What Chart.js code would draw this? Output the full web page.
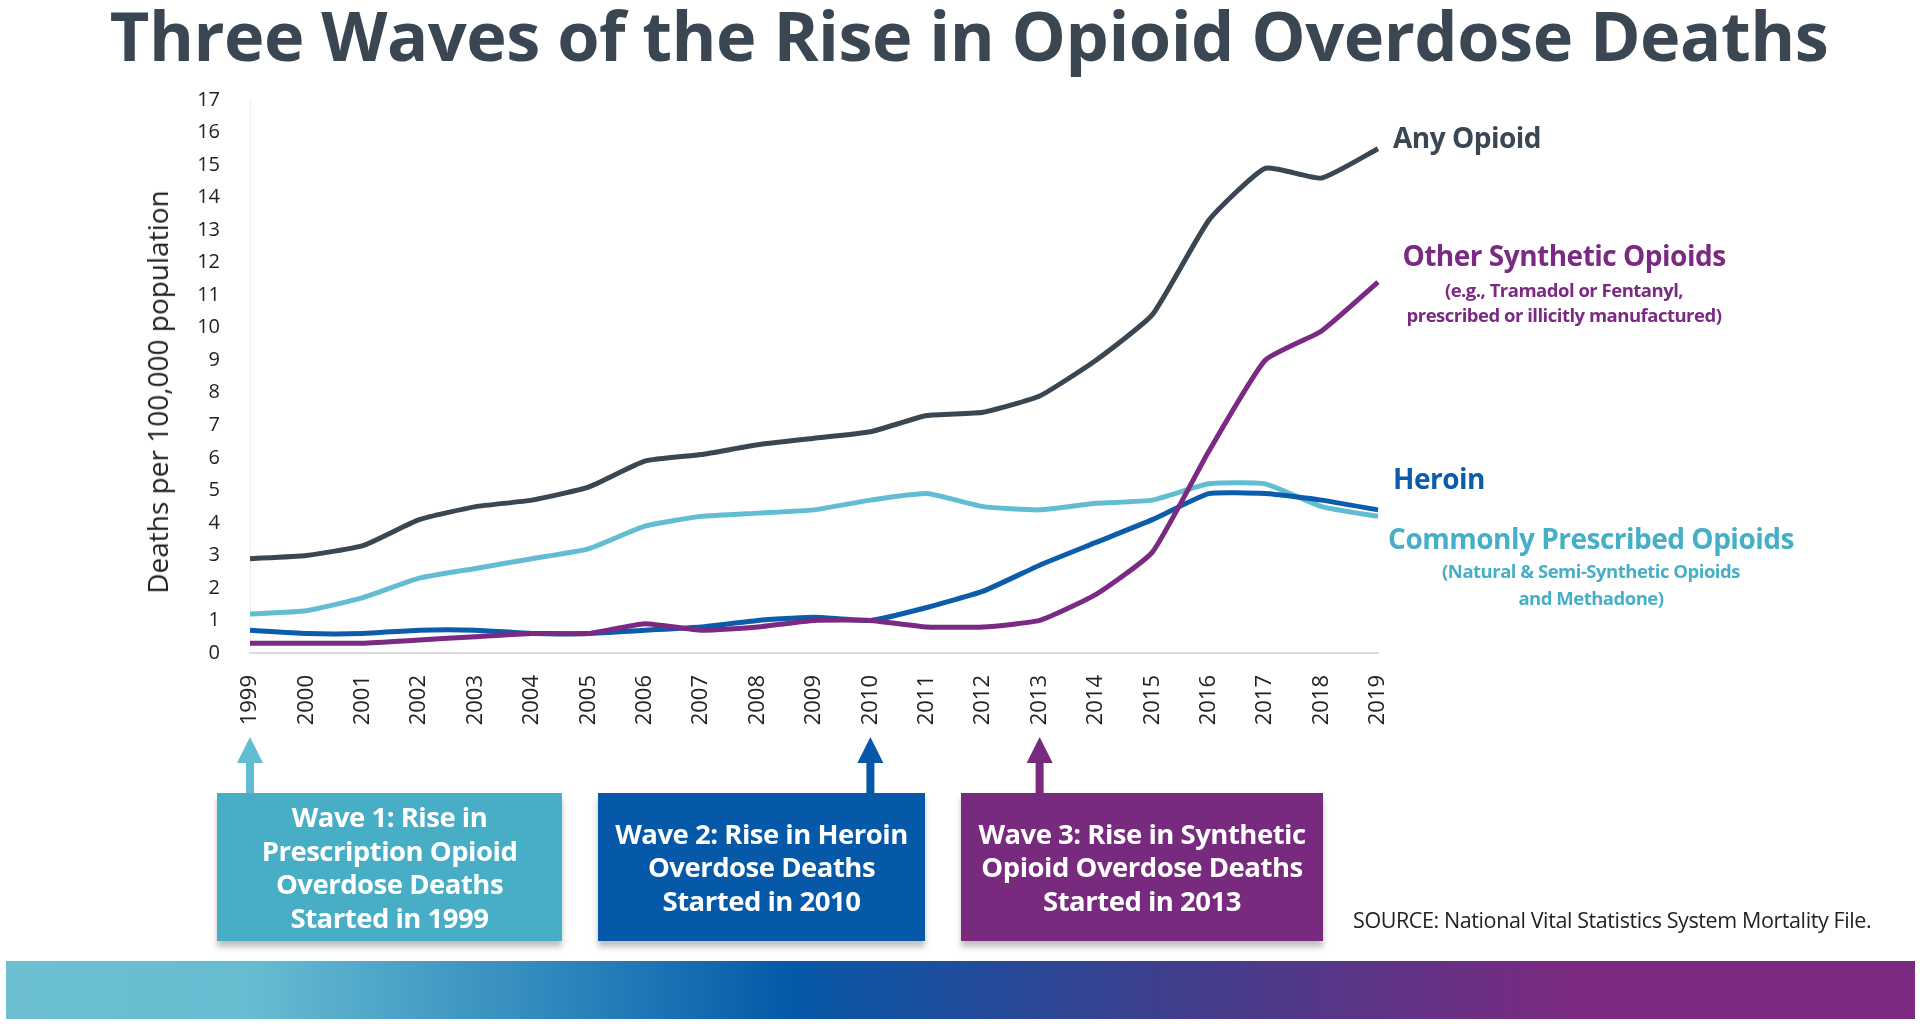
<!DOCTYPE html>
<html>
<head>
<meta charset="utf-8">
<script src="https://cdn.jsdelivr.net/npm/chart.js@4"></script>
<style>
  html, body { margin:0; padding:0; background:#fff; }
  body { width:1920px; height:1024px; position:relative; overflow:hidden; font-family:'Open Sans', sans-serif; }
  #wrap { position:absolute; left:0; top:0; width:1920px; height:1024px; }
  .title { position:absolute; left:9px; width:1920px; top:-12px; text-align:center; font-size:68.5px; font-weight:700; color:#3A4652; letter-spacing:-0.5px; }
  .ytitle { position:absolute; left:157px; top:392px; transform:translate(-50%,-50%) rotate(-90deg); font-size:28px; color:#222; white-space:nowrap; }
  .lbl { position:absolute; font-weight:700; white-space:nowrap; letter-spacing:-0.5px; font-size:28px; }
  .sub { position:absolute; font-weight:700; white-space:nowrap; font-size:18.5px; text-align:center; letter-spacing:-0.5px; }
  .box { position:absolute; top:793px; height:148px; color:#fff; font-weight:700; font-size:27.5px; line-height:33.5px; text-align:center; display:flex; align-items:center; justify-content:center; box-shadow:0 6px 6px rgba(0,0,0,.25); letter-spacing:-0.5px; }
  .src { position:absolute; left:1353px; top:905px; font-size:21.5px; color:#222; letter-spacing:-0.4px; white-space:nowrap; }
  .band { position:absolute; left:6px; top:961px; width:1909px; height:58px;
    background:linear-gradient(90deg,#6CC0D2 0%,#66BCD0 13%,#2F86BD 29%,#0559A8 41%,#3C3F8E 60%,#7A2A80 82%,#7A2A80 100%); }
</style>
</head>
<body>
<div id="wrap"><canvas id="c"></canvas></div>
<div class="title">Three Waves of the Rise in Opioid Overdose Deaths</div>
<div class="ytitle">Deaths per 100,000 population</div>

<div class="lbl" style="left:1393px;top:118px;color:#3B4653;">Any Opioid</div>
<div class="lbl" style="left:1399px;top:236px;width:330px;text-align:center;color:#7A2A82;">Other Synthetic Opioids</div>
<div class="sub" style="left:1399px;top:277px;width:330px;color:#7A2A82;">(e.g., Tramadol or Fentanyl,</div>
<div class="sub" style="left:1399px;top:302px;width:330px;color:#7A2A82;">prescribed or illicitly manufactured)</div>
<div class="lbl" style="left:1393px;top:459px;color:#0B5CAB;">Heroin</div>
<div class="lbl" style="left:1384px;top:519px;width:414px;text-align:center;color:#46AFC8;">Commonly Prescribed Opioids</div>
<div class="sub" style="left:1384px;top:558px;width:414px;color:#46AFC8;">(Natural &amp; Semi-Synthetic Opioids</div>
<div class="sub" style="left:1384px;top:585px;width:414px;color:#46AFC8;">and Methadone)</div>

<div class="box" style="left:217px;width:345px;background:#47AEC6;">Wave 1: Rise in<br>Prescription Opioid<br>Overdose Deaths<br>Started in 1999</div>
<div class="box" style="left:598px;width:327px;background:#0559A8;">Wave 2: Rise in Heroin<br>Overdose Deaths<br>Started in 2010</div>
<div class="box" style="left:961px;width:362px;background:#782A7F;">Wave 3: Rise in Synthetic<br>Opioid Overdose Deaths<br>Started in 2013</div>

<div class="src">SOURCE: National Vital Statistics System Mortality File.</div>
<div class="band"></div>

<script>
// deaths per 100,000 population
const years = ['1999','2000','2001','2002','2003','2004','2005','2006','2007','2008','2009','2010','2011','2012','2013','2014','2015','2016','2017','2018','2019'];
const anyOpioid  = [2.9,3.0,3.3,4.1,4.5,4.7,5.1,5.9,6.1,6.4,6.6,6.8,7.3,7.4,7.9,9.0,10.4,13.3,14.9,14.6,15.5];
const synthetic  = [0.3,0.3,0.3,0.4,0.5,0.6,0.6,0.9,0.7,0.8,1.0,1.0,0.8,0.8,1.0,1.8,3.1,6.2,9.0,9.9,11.4];
const heroin     = [0.7,0.6,0.6,0.7,0.7,0.6,0.6,0.7,0.8,1.0,1.1,1.0,1.4,1.9,2.7,3.4,4.1,4.9,4.9,4.7,4.4];
const prescribed = [1.2,1.3,1.7,2.3,2.6,2.9,3.2,3.9,4.2,4.3,4.4,4.7,4.9,4.5,4.4,4.6,4.7,5.2,5.2,4.5,4.2];
const yTicks = [0,1,2,3,4,5,6,7,8,9,10,11,12,13,14,15,16,17];

// wave start years and arrow colours
const waves = [
  { year:'1999', color:'#62BDD2' },
  { year:'2010', color:'#0559A8' },
  { year:'2013', color:'#782A7F' }
];

const waveArrows = {
  id:'waveArrows',
  afterDraw(chart){
    const ctx = chart.ctx, xs = chart.scales.x;
    waves.forEach(w=>{
      const x = xs.getPixelForValue(years.indexOf(w.year));
      ctx.save();
      ctx.fillStyle = w.color;
      ctx.fillRect(x-4, 760, 8, 34);
      ctx.beginPath();
      ctx.moveTo(x, 737);
      ctx.lineTo(x+13, 763);
      ctx.lineTo(x-13, 763);
      ctx.closePath();
      ctx.fill();
      ctx.restore();
    });
  }
};

const line = (label, data, color) => ({
  label, data, borderColor:color, backgroundColor:color,
  borderWidth:5, pointRadius:0, tension:0.15, fill:false
});

new Chart(document.getElementById('c'), {
  type:'line',
  data:{
    labels:years,
    datasets:[
      line('Any Opioid', anyOpioid, '#3B4653'),
      line('Other Synthetic Opioids', synthetic, '#7A2A82'),
      line('Heroin', heroin, '#0B5CAB'),
      line('Commonly Prescribed Opioids', prescribed, '#62BDD2')
    ]
  },
  options:{
    responsive:true, maintainAspectRatio:false, animation:false,
    layout:{ padding:{ left:138, right:542, top:100, bottom:281 } },
    plugins:{ legend:{display:false}, tooltip:{enabled:false} },
    scales:{
      x:{
        grid:{display:false},
        border:{display:true, color:'#DADADA', width:2},
        ticks:{ minRotation:90, maxRotation:90, autoSkip:false, padding:14, color:'#222', font:{size:22, family:'Open Sans'} },
        afterFit(s){ s.height = 90; }
      },
      y:{
        min:0, max:17,
        afterBuildTicks(s){ s.ticks = yTicks.map(v=>({value:v})); },
        grid:{display:false},
        border:{display:true, color:'#EEEEEE', width:1},
        ticks:{ padding:22, color:'#222', font:{size:20, family:'Open Sans'} },
        afterFit(s){ s.width = 112; }
      }
    }
  },
  plugins:[waveArrows]
});
</script>
</body>
</html>
